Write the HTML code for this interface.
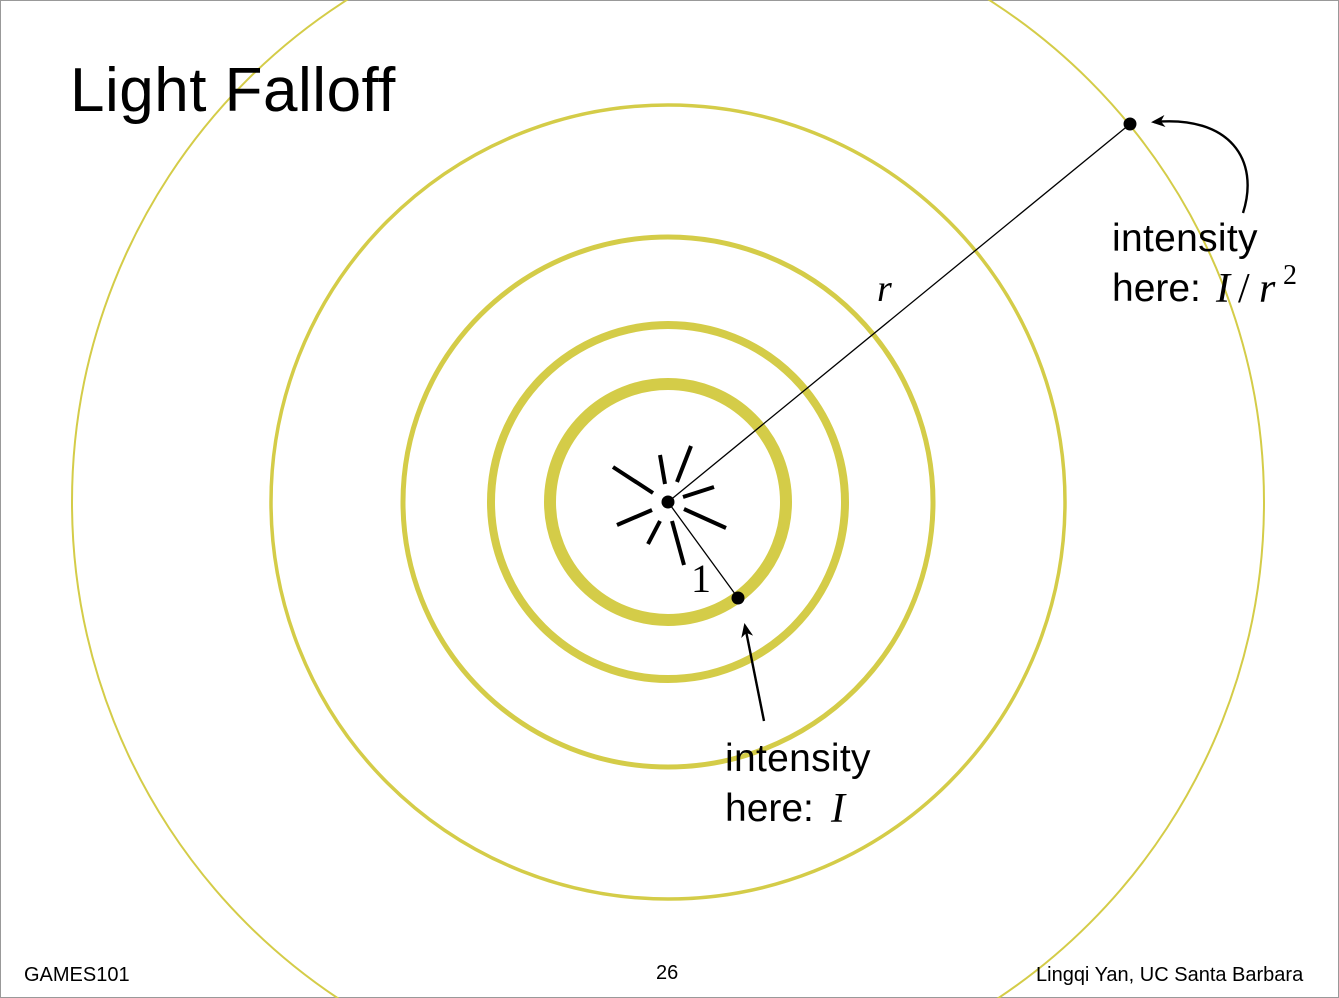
<!DOCTYPE html>
<html><head><style>
html,body{margin:0;padding:0;background:#fff;overflow:hidden;width:1339px;height:998px;position:relative;}
svg{display:block;position:absolute;left:0;top:0;}
</style></head><body>
<svg width="1339" height="998" viewBox="0 0 1339 998" xmlns="http://www.w3.org/2000/svg" overflow="hidden">
<defs>
<marker id="ah" markerWidth="14" markerHeight="12" refX="11" refY="6" orient="auto" markerUnits="userSpaceOnUse">
<path d="M0,0 L14,6 L0,12 L4,6 Z" fill="#000"/>
</marker>
</defs>
<rect x="0.5" y="0.5" width="1338" height="997" fill="#fff" stroke="#999" stroke-width="1"/>
<g fill="none" stroke="#d4cc48">
<circle cx="668" cy="502" r="118" stroke-width="12"/>
<circle cx="668" cy="502" r="177" stroke-width="8"/>
<circle cx="668" cy="502" r="265" stroke-width="5"/>
<circle cx="668" cy="502" r="397" stroke-width="3.5"/>
<circle cx="668" cy="502" r="596" stroke-width="2"/>
</g>
<g stroke="#000" stroke-width="4" stroke-linecap="butt">
<line x1="613" y1="467" x2="653" y2="493"/>
<line x1="660" y1="455" x2="665" y2="484"/>
<line x1="691" y1="446" x2="677" y2="482"/>
<line x1="683" y1="497" x2="714" y2="487"/>
<line x1="684" y1="509" x2="726" y2="528"/>
<line x1="652" y1="510" x2="617" y2="525"/>
<line x1="660" y1="521" x2="648" y2="544"/>
<line x1="672" y1="521" x2="684" y2="565"/>
</g>
<g stroke="#000" stroke-width="1.3">
<line x1="668" y1="502" x2="1130" y2="124"/>
<line x1="668" y1="502" x2="738" y2="598"/>
</g>
<circle cx="668" cy="502" r="6.5" fill="#000"/>
<circle cx="1130" cy="124" r="6.5" fill="#000"/>
<circle cx="738" cy="598" r="6.5" fill="#000"/>
<line x1="764" y1="721" x2="745" y2="626" stroke="#000" stroke-width="2.4" marker-end="url(#ah)"/>
<path d="M1243,213 C1260,160 1230,115 1154,122" fill="none" stroke="#000" stroke-width="2.4" marker-end="url(#ah)"/>
<g font-family="Liberation Sans, sans-serif" fill="#000">
<text x="70" y="111" font-size="62" letter-spacing="0.5">Light Falloff</text>
<text x="1112" y="251" font-size="39" letter-spacing="0.3">intensity</text>
<text x="1112" y="301" font-size="39">here:</text>
<text x="725" y="771" font-size="39" letter-spacing="0.3">intensity</text>
<text x="725" y="821" font-size="39">here:</text>
<text x="24" y="981" font-size="20">GAMES101</text>
<text x="656" y="979" font-size="20">26</text>
<text x="1036" y="981" font-size="20">Lingqi Yan, UC Santa Barbara</text>
</g>
<g font-family="Liberation Serif, serif" fill="#000" font-style="italic">
<text x="1216" y="302" font-size="42">I</text>
<text x="1238" y="302" font-size="42" font-style="normal">/</text>
<text x="1259" y="302" font-size="42">r</text>
<text x="1283" y="284" font-size="28" font-style="normal">2</text>
<text x="831" y="822" font-size="42">I</text>
<text x="877" y="301" font-size="38">r</text>
</g>
<text x="691" y="592" font-family="Liberation Serif, serif" font-size="40" fill="#000">1</text>
</svg>
</body></html>
